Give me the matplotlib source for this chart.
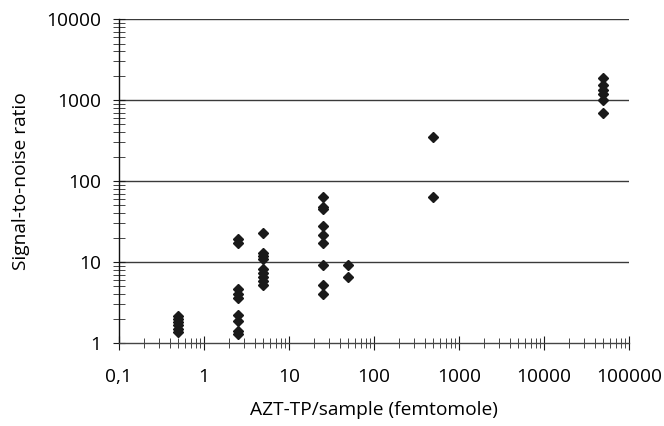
import matplotlib.pyplot as plt
from matplotlib.ticker import LogLocator, FixedLocator, NullFormatter

plt.rcParams['font.family'] = ['Open Sans', 'DejaVu Sans']

# AZT-TP amount per sample (femtomole) and measured signal-to-noise ratios
amount_05 = [0.5] * 6
snr_05 = [1.35, 1.5, 1.65, 1.8, 2.0, 2.15]
amount_25 = [2.5] * 9
snr_25 = [19, 17, 4.6, 4.0, 3.6, 2.2, 1.85, 1.4, 1.3]
amount_5 = [5] * 9
snr_5 = [23, 13, 12, 11, 8.3, 7.4, 6.5, 5.8, 5.2]
amount_25b = [25] * 9
snr_25b = [64, 48, 45, 28, 21.5, 17.3, 9.2, 5.2, 4.0]
amount_50 = [50] * 2
snr_50 = [9.2, 6.6]
amount_500 = [500] * 2
snr_500 = [350, 63]
amount_50000 = [50000] * 6
snr_50000 = [1850, 1550, 1350, 1180, 1000, 690]

x_ticks = [0.1, 1, 10, 100, 1000, 10000, 100000]
x_labels = ["0,1", "1", "10", "100", "1000", "10000", "100000"]
y_ticks = [1, 10, 100, 1000, 10000]
y_labels = ["1", "10", "100", "1000", "10000"]

x = amount_05 + amount_25 + amount_5 + amount_25b + amount_50 + amount_500 + amount_50000
y = snr_05 + snr_25 + snr_5 + snr_25b + snr_50 + snr_500 + snr_50000

fig = plt.figure(figsize=(6.64, 4.26), dpi=100)
ax = fig.add_axes([0.179, 0.195, 0.768, 0.760])

ax.set_xscale('log')
ax.set_yscale('log')
ax.set_xlim(0.1, 100000)
ax.set_ylim(1, 10000)

# horizontal gridlines at the decades
for yy in y_ticks[1:]:
    ax.axhline(yy, color='#3a3a3a', lw=1.0, zorder=1)

ax.plot(x, y, linestyle='none', marker='D', markersize=5.3,
        color='#1a1a1a', zorder=3, clip_on=False)

ax.xaxis.set_major_locator(FixedLocator(x_ticks))
ax.set_xticklabels(x_labels)
ax.xaxis.set_minor_locator(LogLocator(base=10, subs=range(2, 10), numticks=20))
ax.xaxis.set_minor_formatter(NullFormatter())
ax.yaxis.set_major_locator(FixedLocator(y_ticks))
ax.set_yticklabels(y_labels)
ax.yaxis.set_minor_locator(LogLocator(base=10, subs=range(2, 10), numticks=20))
ax.yaxis.set_minor_formatter(NullFormatter())

ax.tick_params(axis='x', which='major', direction='inout', length=10, width=0.8,
               labelsize=13.8, pad=13, color='#1a1a1a')
ax.tick_params(axis='x', which='minor', direction='inout', length=6.5, width=0.7,
               color='#444444')
ax.tick_params(axis='y', which='major', direction='inout', length=9, width=0.8,
               labelsize=13.8, pad=8, color='#1a1a1a')
ax.tick_params(axis='y', which='minor', direction='inout', length=8, width=0.7,
               color='#444444')

for side in ['top', 'right']:
    ax.spines[side].set_visible(False)
ax.spines['left'].set_color('#111111')
ax.spines['bottom'].set_color('#444444')
ax.spines['left'].set_linewidth(1.0)
ax.spines['bottom'].set_linewidth(1.0)

ax.set_xlabel("AZT-TP/sample (femtomole)", fontsize=13.8, labelpad=11)
ax.set_ylabel("Signal-to-noise ratio", fontsize=13.8, labelpad=12)

fig.savefig("out.png", dpi=100)
